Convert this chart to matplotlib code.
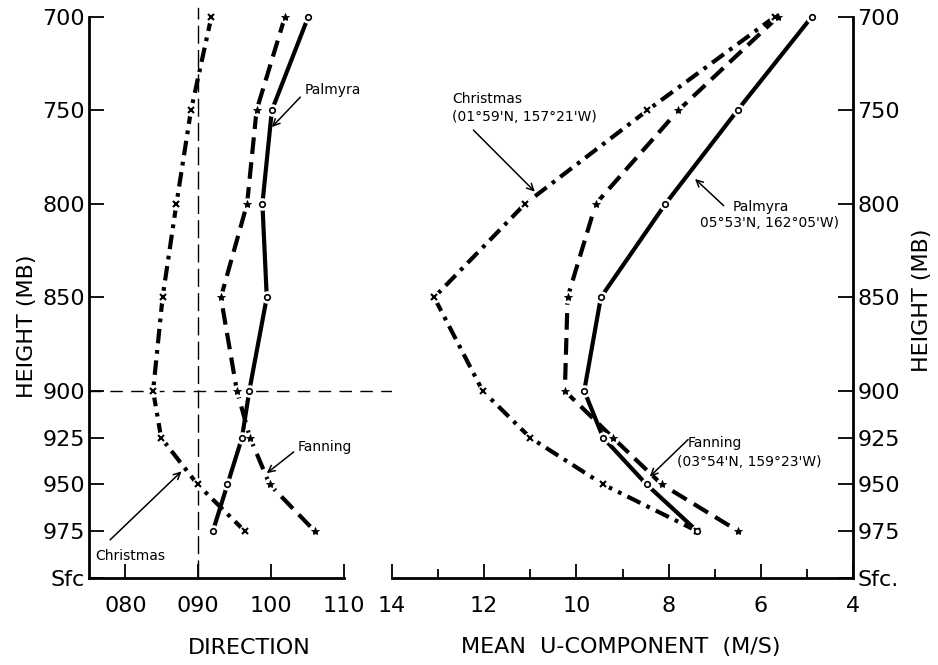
from matplotlib import pyplot as plt
import numpy as np

plt.rcParams['font.family'] = ['DejaVu Sans']

# data
pressure = [700, 750, 800, 850, 900, 925, 950, 975]
height_ticks = [700, 750, 800, 850, 900, 925, 950, 975, 1000]
height_labels_left = ['700', '750', '800', '850', '900', '925', '950', '975', 'Sfc']
height_labels_right = ['700', '750', '800', '850', '900', '925', '950', '975', 'Sfc.']

dir_christmas = [91.8, 89.0, 87.0, 85.1, 83.8, 84.9, 89.9, 96.4]
dir_palmyra = [105.1, 100.1, 98.8, 99.4, 97.0, 96.0, 94.0, 92.0]
dir_fanning = [101.9, 98.0, 96.7, 93.1, 95.3, 97.1, 99.8, 106.0]
dir_ticks = [80, 90, 100, 110]
dir_labels = ['080', '090', '100', '110']

u_christmas = [5.7, 8.46, 11.11, 13.08, 12.03, 11.0, 9.42, 7.38]
u_palmyra = [4.90, 6.51, 8.07, 9.47, 9.83, 9.42, 8.48, 7.38]
u_fanning = [5.63, 7.79, 9.58, 10.19, 10.25, 9.21, 8.15, 6.49]
u_ticks = [14, 12, 10, 8, 6, 4]
u_minor = [13, 11, 9, 7, 5]

W, H = 938, 665
FS = 16
AFS = 10

styles = {
    'christmas': dict(ls=(0, (3.5, 1.6, 0.9, 1.6)), marker='x', ms=5, mew=1.5, mfc='black'),
    'palmyra': dict(ls='-', marker='o', ms=4, mew=1.2, mfc='white'),
    'fanning': dict(ls=(0, (4, 2)), marker='*', ms=6, mew=0.6, mfc='black'),
}


def draw_series(ax, x, y, style):
    ax.plot(x, y, color='black', lw=3, ls=style['ls'], solid_capstyle='butt',
            dash_capstyle='butt', zorder=2, clip_on=False)
    ax.plot(x, y, ls='none', marker='o', ms=9, mfc='white', mec='none', zorder=3, clip_on=False)
    ax.plot(x, y, ls='none', marker=style['marker'], ms=style['ms'], mew=style['mew'],
            mfc=style['mfc'], mec='black', zorder=4, clip_on=False)


def arrow(ax, head, tail):
    ax.annotate('', xy=head, xytext=tail,
                arrowprops=dict(arrowstyle='->', lw=1.1, color='black', mutation_scale=12,
                                shrinkA=0, shrinkB=0))


fig = plt.figure(figsize=(W / 100, H / 100), dpi=100)
bottom = 87 / H
height = 561.3 / H
left1, width1 = 89 / W, 255 / W
left2, width2 = 391.7 / W, 461.7 / W
ax1 = fig.add_axes([left1, bottom, width1, height])
ax2 = fig.add_axes([left2, bottom, width2, height])

for ax in (ax1, ax2):
    ax.set_ylim(1000, 700)
    ax.set_yticks(height_ticks)
    ax.spines['top'].set_visible(False)
    for s in ax.spines.values():
        s.set_linewidth(2)
    ax.tick_params(direction='in', width=1.3, labelsize=FS)
    ax.tick_params(axis='x', length=10, pad=13)
    ax.tick_params(axis='y', length=11, pad=3)

# left panel: direction
ax1.set_xlim(75, 110)
ax1.spines['right'].set_visible(False)
ax1.set_xticks(dir_ticks)
ax1.set_xticklabels(dir_labels)
ax1.set_yticklabels(height_labels_left)
ax1.axvline(90, color='black', lw=1, ls=(0, (13, 4.5)), zorder=1)
ax1.axvline(90, ymin=1.0, ymax=1.015, color='black', lw=1, clip_on=False)
span = (left2 + width2 - left1) / width1
ax1.axhline(900, xmin=0, xmax=span, color='black', lw=1, ls=(0, (9, 6)), clip_on=False, zorder=1)

draw_series(ax1, dir_christmas, pressure, styles['christmas'])
draw_series(ax1, dir_palmyra, pressure, styles['palmyra'])
draw_series(ax1, dir_fanning, pressure, styles['fanning'])

ax1.text(104.6, 739, 'Palmyra', fontsize=AFS, ha='left', va='center')
arrow(ax1, (100.1, 759), (104.0, 743))
ax1.text(103.6, 930, 'Fanning', fontsize=AFS, ha='left', va='center')
arrow(ax1, (99.4, 944), (103.1, 932.6))
ax1.text(75.8, 988, 'Christmas', fontsize=AFS, ha='left', va='center')
arrow(ax1, (87.7, 943), (77.9, 979.6))

# right panel: mean u-component
ax2.set_xlim(14, 4)
ax2.spines['left'].set_visible(False)
ax2.set_xticks(u_ticks)
ax2.set_xticks(u_minor, minor=True)
ax2.tick_params(axis='x', which='minor', direction='in', length=6.5, width=1.3)
ax2.yaxis.tick_right()
ax2.set_yticklabels(height_labels_right)

draw_series(ax2, u_christmas, pressure, styles['christmas'])
draw_series(ax2, u_palmyra, pressure, styles['palmyra'])
draw_series(ax2, u_fanning, pressure, styles['fanning'])

ax2.text(12.69, 748.8, "Christmas\n(01°59'N, 157°21'W)", fontsize=AFS, ha='left', va='center',
         linespacing=1.3)
arrow(ax2, (10.90, 793.5), (12.23, 760.6))
ax2.text(6.61, 801.5, 'Palmyra', fontsize=AFS, ha='left', va='center')
ax2.text(7.32, 810.5, "05°53'N, 162°05'W)", fontsize=AFS, ha='left', va='center')
arrow(ax2, (7.43, 786.7), (6.81, 801.0))
ax2.text(7.58, 928.0, 'Fanning', fontsize=AFS, ha='left', va='center')
ax2.text(7.82, 937.8, "(03°54'N, 159°23'W)", fontsize=AFS, ha='left', va='center')
arrow(ax2, (8.41, 945.8), (7.58, 926))

# axis titles
fig.text(249 / W, 1 - 648 / H, 'DIRECTION', fontsize=FS, ha='center', va='center')
fig.text(621 / W, 1 - 647 / H, 'MEAN  U-COMPONENT  (M/S)', fontsize=FS, ha='center', va='center')
fig.text(27 / W, 1 - 326 / H, 'HEIGHT (MB)', fontsize=FS, ha='center', va='center', rotation=90)
fig.text(922 / W, 1 - 300 / H, 'HEIGHT (MB)', fontsize=FS, ha='center', va='center', rotation=90)

fig.savefig('out.png', dpi=100)
